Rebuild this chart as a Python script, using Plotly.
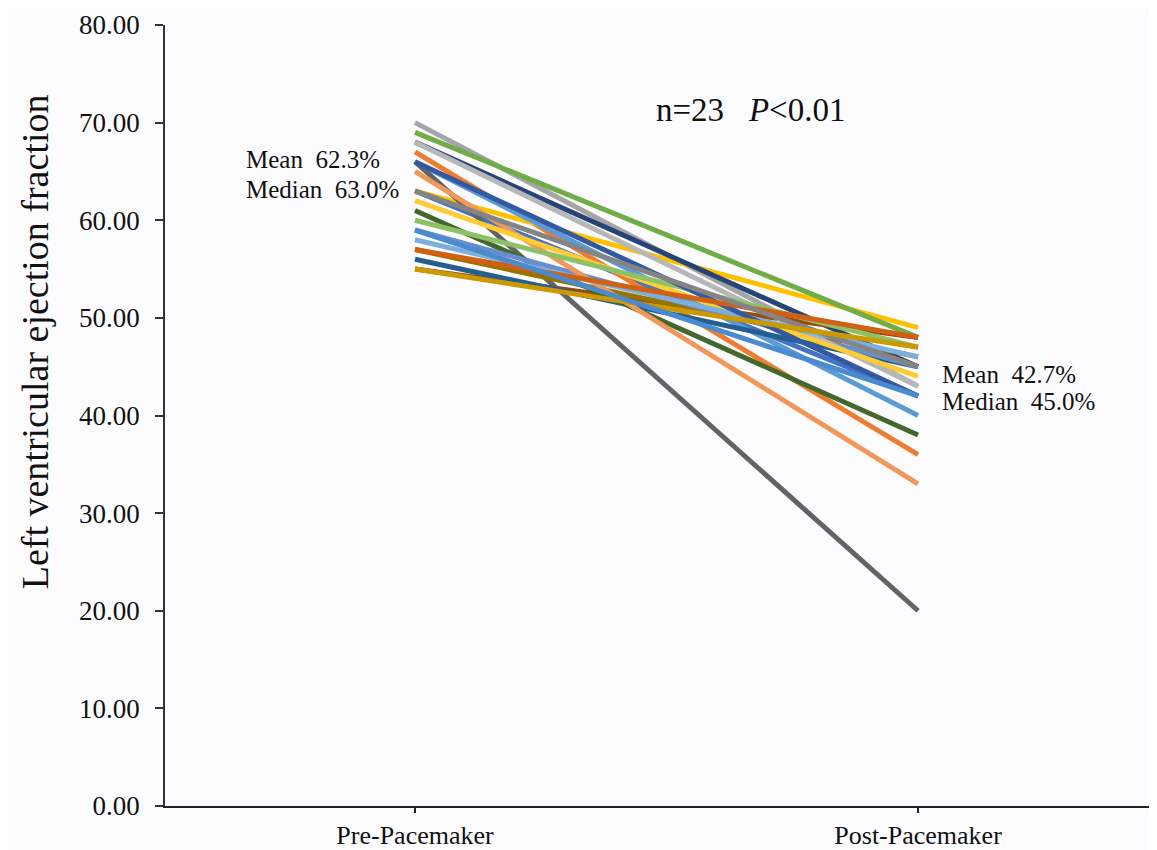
import plotly.graph_objects as go

categories = ["Pre-Pacemaker", "Post-Pacemaker"]
pre_values = [63, 67, 70, 63, 66, 69, 68, 55, 66, 57, 56, 61, 59, 65, 68, 62, 58, 60, 66, 57, 63, 55, 59]
post_values = [42, 36, 43, 49, 40, 48, 45, 48, 20, 46, 45, 38, 45, 33, 43, 44, 46, 47, 42, 48, 45, 47, 42]
colors = ["#4472C4", "#ED7D31", "#A5A5A5", "#FFC000", "#5B9BD5", "#70AD47",
          "#264478", "#9E480E", "#636363", "#997300", "#255E91", "#43682B",
          "#698ED0", "#F1975A", "#B7B7B7", "#FFCD33", "#7CAFDD", "#8CC168",
          "#335AA1", "#D26012", "#848484", "#CC9A00", "#4A8ACE"]
y_ticks = [0, 10, 20, 30, 40, 50, 60, 70, 80]

FONT = "Liberation Serif, Times New Roman, serif"

fig = go.Figure()
xpos = list(range(len(categories)))
for pre, post, c in zip(pre_values, post_values, colors):
    fig.add_trace(go.Scatter(x=xpos, y=[pre, post], mode="lines",
                             line=dict(color=c, width=5), showlegend=False,
                             hoverinfo="skip"))

ann_font = dict(size=25, family=FONT, color="#111")
fig.add_annotation(x=-0.34, y=66.2, xref="x", yref="y", text="Mean  62.3%",
                   showarrow=False, xanchor="left", font=ann_font)
fig.add_annotation(x=-0.34, y=63.1, xref="x", yref="y", text="Median  63.0%",
                   showarrow=False, xanchor="left", font=ann_font)
fig.add_annotation(x=1.044, y=44.25, xref="x", yref="y", text="Mean  42.7%",
                   showarrow=False, xanchor="left", font=ann_font)
fig.add_annotation(x=1.044, y=41.4, xref="x", yref="y", text="Median  45.0%",
                   showarrow=False, xanchor="left", font=ann_font)
fig.add_annotation(x=0.666, y=71.3, xref="x", yref="y", text="n=23   <i>P</i><0.01",
                   showarrow=False, xanchor="center", font=dict(size=33, family=FONT, color="#111"))
# y-axis title as rotated annotation (positioned like the reference)
fig.add_annotation(x=-0.131, y=47.5, xref="paper", yref="y",
                   text="Left ventricular ejection fraction", textangle=-90,
                   showarrow=False, xanchor="center", yanchor="middle",
                   font=dict(size=38, family=FONT, color="#111"))

fig.update_layout(
    width=1149, height=842,
    margin=dict(l=157, r=0, t=17, b=44, autoexpand=False),
    paper_bgcolor="#FCFCFE", plot_bgcolor="#FCFCFE",
    font=dict(family=FONT, color="#111"),
    xaxis=dict(range=[-0.497, 1.475], tickvals=xpos, ticktext=categories,
               showgrid=False, zeroline=False, showline=True, linecolor="#222", linewidth=2,
               ticks="outside", ticklen=5, tickwidth=2, tickcolor="#222",
               tickfont=dict(size=26, family=FONT, color="#111")),
    yaxis=dict(range=[0, 80], tickvals=y_ticks, tickformat=".2f",
               showgrid=False, zeroline=False, showline=True, linecolor="#333", linewidth=1.5,
               ticks="outside", ticklen=8, tickwidth=1.5, tickcolor="#333",
               ticklabelstandoff=10,
               tickfont=dict(size=27, family=FONT, color="#111")),
)

fig.write_html("out.html")
